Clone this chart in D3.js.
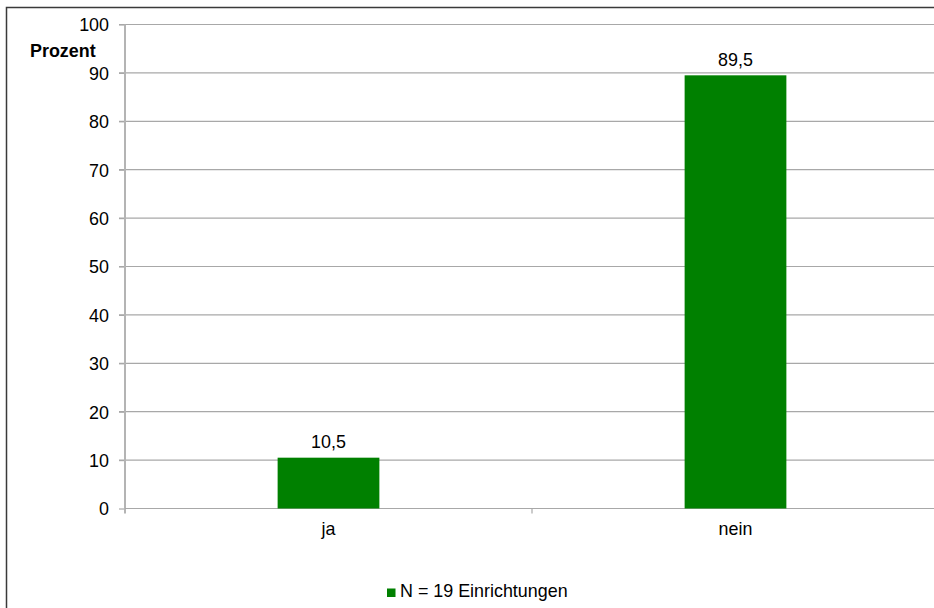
<!DOCTYPE html>
<html><head><meta charset="utf-8">
<script src="https://cdn.jsdelivr.net/npm/d3@7"></script>
<style>body{margin:0;background:#fff}svg{display:block}text{font-family:"Liberation Sans",Arial,sans-serif}</style>
</head><body>
<svg id="c" width="934" height="608"></svg>
<script>
const categories = ["ja", "nein"];
const values = [10.5, 89.5];
const valueLabels = ["10,5", "89,5"];
const yTicks = [0, 10, 20, 30, 40, 50, 60, 70, 80, 90, 100];
const yTitle = "Prozent";
const legendLabel = "N = 19 Einrichtungen";

const svg = d3.select("#c");
const fs = 17.9;
const barColor = "#008000";

// outer chart frame
svg.append("rect").attr("x", 6.5).attr("y", 7.5).attr("width", 960).attr("height", 640)
  .attr("fill", "none").attr("stroke", "#3a3a3a").attr("stroke-width", 1.5);

const x0 = 125, x1 = 939;
const y = d3.scaleLinear().domain([0, 100]).range([508.5, 24.5]);
const x = d3.scaleBand().domain(categories).range([x0, x1]).paddingInner(0).paddingOuter(0);
const barW = x.bandwidth() * 0.25;

// gridlines
svg.append("g").selectAll("line").data(yTicks.filter(d => d > 0)).join("line")
  .attr("x1", 119).attr("x2", 934).attr("y1", d => y(d)).attr("y2", d => y(d))
  .attr("stroke", "#a8a8a8").attr("stroke-width", 1.2);

// y axis
const yAxis = d3.axisLeft(y).tickValues(yTicks).tickSize(6).tickPadding(10).tickFormat(d3.format("d"));
const gy = svg.append("g").attr("transform", `translate(${x0},0)`).call(yAxis);
gy.select(".domain").remove();
gy.selectAll(".tick line").attr("stroke", "#a8a8a8").attr("stroke-width", 1.2);
gy.selectAll(".tick text").attr("font-size", fs).attr("fill", "#000").attr("dy", "0.36em")
  .attr("font-family", "Liberation Sans, Arial, sans-serif");
svg.append("line").attr("x1", x0).attr("x2", x0).attr("y1", y(100)).attr("y2", 513.5)
  .attr("stroke", "#b4b4b4").attr("stroke-width", 2);

// x axis
svg.append("line").attr("x1", x0).attr("x2", 934).attr("y1", y(0)).attr("y2", y(0))
  .attr("stroke", "#a8a8a8").attr("stroke-width", 1.2);
const bounds = categories.map(c => x(c)).concat([x1]);
svg.append("g").selectAll("line").data(bounds.slice(1)).join("line")
  .attr("x1", d => d).attr("x2", d => d).attr("y1", y(0)).attr("y2", 513.5)
  .attr("stroke", "#a8a8a8").attr("stroke-width", 1.2);
svg.append("g").selectAll("text").data(categories).join("text")
  .attr("x", d => x(d) + x.bandwidth() / 2).attr("y", 535)
  .attr("text-anchor", "middle").attr("font-size", fs).attr("fill", "#000").text(d => d);

// bars
svg.append("g").selectAll("rect").data(values).join("rect")
  .attr("x", (d, i) => x(categories[i]) + x.bandwidth() / 2 - barW / 2)
  .attr("width", barW)
  .attr("y", d => y(d)).attr("height", d => y(0) - y(d))
  .attr("fill", barColor);

// value labels
svg.append("g").selectAll("text").data(values).join("text")
  .attr("x", (d, i) => x(categories[i]) + x.bandwidth() / 2).attr("y", d => y(d) - 9.5)
  .attr("text-anchor", "middle").attr("font-size", fs).attr("fill", "#000")
  .text((d, i) => valueLabels[i]);

// y title
svg.append("text").attr("x", 30).attr("y", 57).attr("font-size", fs).attr("font-weight", "bold")
  .attr("fill", "#000").text(yTitle);

// legend
svg.append("rect").attr("x", 387).attr("y", 588.5).attr("width", 8.5).attr("height", 8.5).attr("fill", barColor);
svg.append("text").attr("x", 400).attr("y", 597.3).attr("font-size", fs).attr("fill", "#000").text(legendLabel);
</script>
</body></html>
